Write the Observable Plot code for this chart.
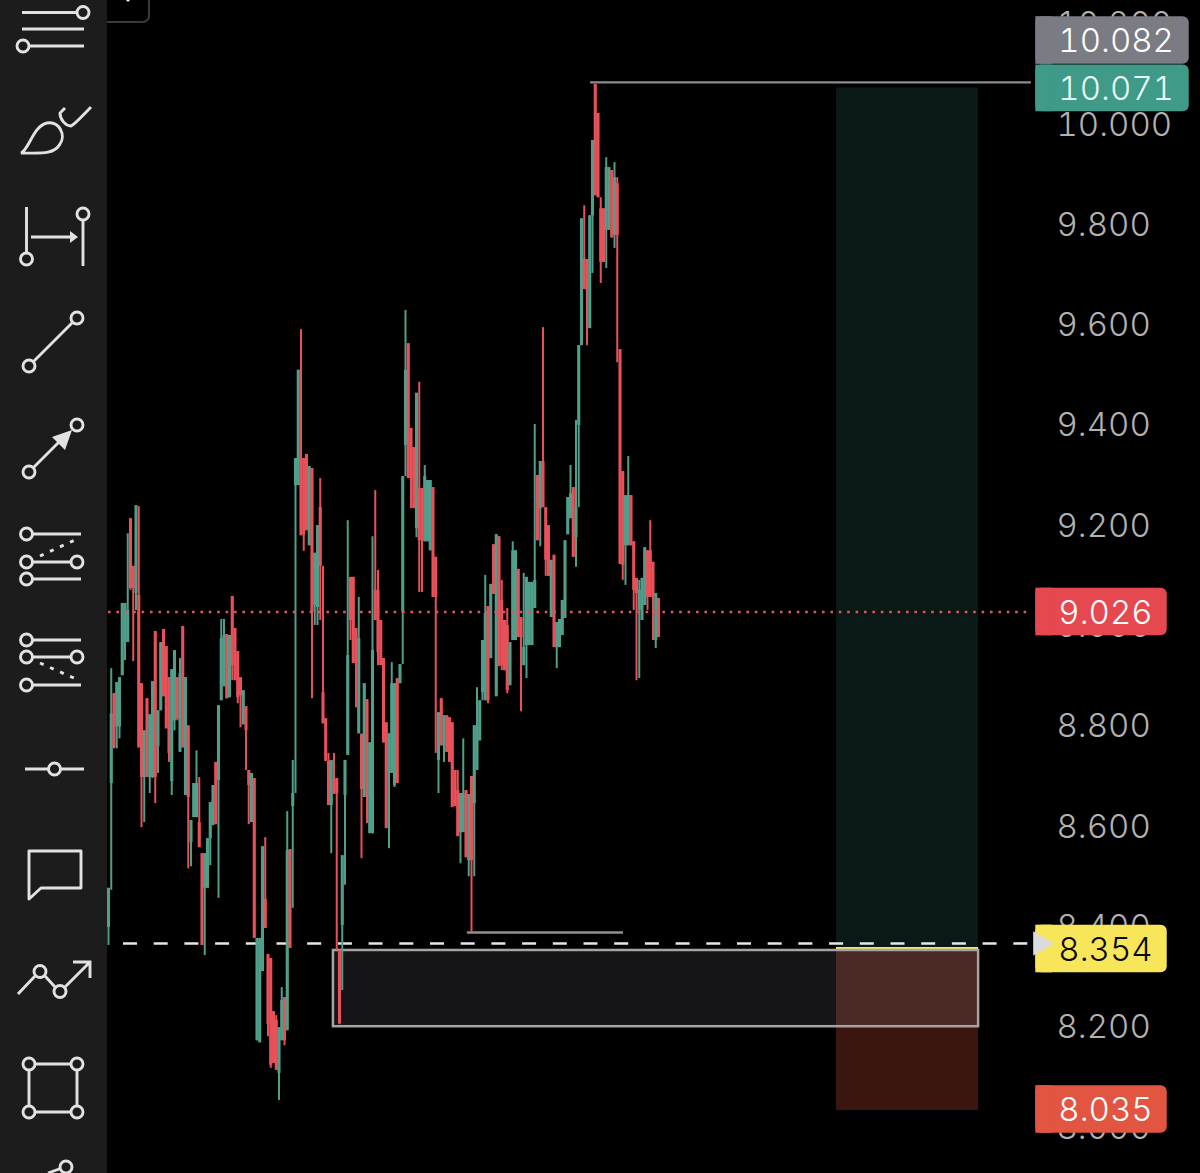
<!DOCTYPE html>
<html>
<head>
<meta charset="utf-8">
<script src="https://cdn.jsdelivr.net/npm/d3@7"></script>
<script src="https://cdn.jsdelivr.net/npm/@observablehq/plot@0.6"></script>
<style>
html,body{margin:0;padding:0;background:#000;width:1200px;height:1173px;overflow:hidden}
#wrap{position:relative;width:1200px;height:1173px}
#wrap>svg{display:block;position:absolute;left:0;top:0}
#tools{pointer-events:none}
</style>
</head>
<body>
<div id="wrap"></div>
<script>
const high=[8.475,8.913,8.863,8.885,8.895,9.043,9.043,9.182,9.212,9.117,
9.238,9.236,8.883,8.789,8.853,8.821,8.887,8.987,8.829,8.965,
8.991,8.957,8.895,8.911,8.949,8.895,8.933,8.997,8.895,8.799,
8.610,8.684,8.749,8.696,8.544,8.544,8.574,8.646,8.680,8.726,
8.839,9.011,9.011,8.981,8.979,9.057,8.993,8.947,8.895,8.869,
8.837,8.710,8.704,8.694,8.375,8.375,8.558,8.576,8.343,8.335,
8.229,8.221,8.197,8.277,8.257,8.628,8.552,8.730,9.332,9.508,
9.589,9.332,9.340,9.316,9.312,9.143,9.198,9.292,9.117,8.813,
8.744,8.730,8.744,8.694,8.351,8.540,8.730,9.208,9.095,9.095,
8.993,9.055,8.783,8.883,8.851,8.765,9.176,9.268,9.109,9.009,
8.933,8.805,8.783,8.925,8.883,8.893,8.921,9.296,9.627,9.561,
9.392,9.354,9.462,9.484,9.272,9.318,9.288,9.288,9.274,9.135,
8.825,8.853,8.819,8.819,8.815,8.805,8.710,8.710,8.664,8.773,
8.670,8.662,8.698,8.799,8.875,8.849,8.969,9.099,9.037,9.081,
9.160,9.180,9.176,9.089,9.009,9.033,8.965,9.166,9.148,9.111,
9.015,9.103,9.095,9.085,9.085,9.400,9.298,9.326,9.593,9.234,
9.198,9.129,9.139,9.005,9.011,9.049,9.168,9.254,9.318,9.274,
9.408,9.557,9.810,9.836,9.729,9.816,9.966,10.078,10.020,9.852,
9.830,9.932,9.912,9.906,9.922,9.892,9.549,9.306,9.258,9.336,
9.258,9.166,9.093,9.089,9.093,9.154,9.148,9.208,9.125,9.063,9.053];
const low=[8.361,8.471,8.753,8.753,8.773,8.899,8.929,8.965,9.069,8.927,
9.029,8.755,8.596,8.606,8.696,8.664,8.694,8.644,8.704,8.829,
8.857,8.793,8.726,8.660,8.789,8.809,8.746,8.755,8.660,8.514,
8.518,8.616,8.616,8.556,8.361,8.341,8.475,8.520,8.600,8.602,
8.455,8.849,8.877,8.853,8.855,8.889,8.889,8.843,8.795,8.801,
8.710,8.602,8.606,8.375,8.171,8.167,8.309,8.395,8.179,8.116,
8.126,8.112,8.052,8.171,8.161,8.191,8.355,8.435,8.664,9.278,
9.178,9.147,9.188,9.158,8.853,8.999,8.999,9.009,8.803,8.728,
8.640,8.544,8.662,8.351,8.203,8.271,8.481,8.740,8.969,8.923,
8.835,8.783,8.534,8.656,8.604,8.584,8.584,9.009,8.919,8.919,
8.765,8.594,8.554,8.704,8.676,8.684,8.883,8.921,9.296,9.292,
9.232,9.232,9.174,9.065,9.065,9.166,9.166,9.148,9.055,8.744,
8.664,8.759,8.726,8.746,8.726,8.636,8.638,8.578,8.524,8.586,
8.536,8.498,8.387,8.498,8.710,8.769,8.849,8.849,8.843,8.933,
9.061,8.857,8.917,8.909,8.909,8.863,8.879,8.969,8.969,8.975,
8.827,8.919,8.893,8.959,8.959,9.033,9.168,9.156,9.234,9.097,
9.097,9.015,8.955,8.913,8.955,8.979,9.013,9.180,9.212,9.135,
9.115,9.234,9.557,9.669,9.557,9.591,9.701,9.856,9.852,9.681,
9.723,9.711,9.787,9.771,9.751,9.523,9.121,9.089,9.079,9.158,
9.158,9.029,8.889,8.893,9.009,9.039,9.029,9.055,8.969,8.953,8.975];
const open=[8.397,8.684,8.863,8.797,8.797,8.899,8.965,8.965,9.212,9.117,
9.063,9.059,8.883,8.696,8.853,8.696,8.696,8.987,8.757,8.829,
8.991,8.957,8.895,8.688,8.809,8.895,8.746,8.997,8.660,8.799,
8.566,8.616,8.616,8.606,8.544,8.475,8.475,8.574,8.600,8.726,
8.690,8.849,8.877,8.981,8.855,9.057,8.993,8.947,8.895,8.801,
8.837,8.710,8.606,8.694,8.171,8.167,8.309,8.453,8.343,8.335,
8.229,8.211,8.106,8.171,8.257,8.191,8.552,8.638,9.278,9.278,
9.332,9.332,9.340,9.158,9.312,9.039,9.035,9.234,8.865,8.813,
8.728,8.640,8.690,8.694,8.351,8.401,8.660,8.740,9.095,9.095,
8.993,8.783,8.781,8.656,8.851,8.584,8.584,9.069,9.069,9.009,
8.933,8.805,8.704,8.704,8.680,8.893,8.883,9.025,9.358,9.561,
9.392,9.354,9.192,9.272,9.272,9.166,9.166,9.148,9.274,9.135,
8.730,8.853,8.759,8.819,8.815,8.805,8.710,8.670,8.586,8.586,
8.670,8.530,8.698,8.644,8.710,8.769,8.865,8.849,9.037,8.933,
9.160,8.857,9.176,9.049,9.009,8.999,8.879,8.969,8.969,9.111,
9.015,8.919,8.959,8.959,8.959,9.033,9.298,9.232,9.326,9.234,
9.198,9.015,9.139,8.955,8.955,8.979,9.013,9.180,9.212,9.274,
9.174,9.398,9.557,9.729,9.729,9.591,9.816,10.078,10.020,9.830,
9.830,9.787,9.787,9.906,9.777,9.880,9.549,9.306,9.158,9.158,
9.258,9.166,9.093,9.029,9.009,9.039,9.148,9.148,9.125,8.969,9.053];
const close=[8.475,8.823,8.755,8.885,8.895,9.043,9.043,9.029,9.073,9.073,
9.238,8.755,8.696,8.789,8.696,8.821,8.887,8.696,8.829,8.965,
8.857,8.793,8.744,8.911,8.949,8.813,8.903,8.755,8.895,8.656,
8.610,8.684,8.684,8.556,8.361,8.544,8.574,8.646,8.680,8.602,
8.839,8.973,8.979,8.853,8.979,8.919,8.889,8.855,8.859,8.869,
8.789,8.680,8.704,8.375,8.375,8.375,8.558,8.395,8.203,8.122,
8.126,8.112,8.197,8.251,8.171,8.550,8.355,8.664,9.332,9.508,
9.178,9.180,9.188,9.316,9.025,9.143,9.198,9.117,8.803,8.728,
8.640,8.730,8.662,8.664,8.205,8.540,8.730,8.939,9.009,8.923,
8.923,8.973,8.672,8.883,8.656,8.765,8.949,9.009,8.945,8.919,
8.765,8.594,8.783,8.883,8.883,8.684,8.921,9.296,9.508,9.292,
9.292,9.232,9.462,9.168,9.168,9.296,9.288,9.288,9.055,9.055,
8.825,8.759,8.819,8.746,8.726,8.636,8.638,8.578,8.664,8.664,
8.536,8.662,8.530,8.799,8.799,8.849,8.969,9.023,8.849,9.081,
9.061,9.180,8.917,8.919,8.909,8.869,8.965,9.148,9.148,8.975,
8.975,8.955,9.095,9.085,9.085,9.089,9.168,9.326,9.234,9.129,
9.097,9.129,8.955,9.005,9.011,9.049,9.168,9.254,9.262,9.135,
9.234,9.557,9.810,9.669,9.667,9.816,9.966,9.856,9.852,9.723,
9.723,9.912,9.912,9.773,9.892,9.777,9.121,9.119,9.258,9.258,
9.158,9.069,9.063,9.069,9.093,9.154,9.055,9.055,9.055,9.063,8.975];

const priceTicks=[10.2,10,9.8,9.6,9.4,9.2,9,8.8,8.6,8.4,8.2,8];
const targetPrice=10.071, entryPrice=8.354, stopPrice=8.035, lastPrice=9.026, swingHigh=10.082, swingLow=8.387, cursorPrice=8.365;
const boxTop=8.351, boxBottom=8.199, zoneFloor=8.032;

const GREEN="#4f9f8b", RED="#e8505a";
const candles=high.map((h,i)=>({i,high:h,low:low[i],open:open[i],close:close[i]}));
const dirColor=d=>d.close>=d.open?GREEN:RED;

const zoneBars=[264.7,316.4], boxBars=[81.8,316.4], highBars=[175.3,335.6], lowBars=[130.5,187.3], lineBars=[0,335.6];
const tagLeft=337.2, tagText=345.4;
const tags=[
 {price:swingHigh,label:"10.082",fill:"#7b7b83",text:"#ffffff",x2:393,half:.0475,offset:.0835},
 {price:targetPrice,label:"10.071",fill:"#3f9a87",text:"#e9fbf6",x2:393,half:.0465,offset:-.001},
 {price:lastPrice,label:"9.026",fill:"#e5484f",text:"#ffffff",x2:385,half:.0475,offset:0},
 {price:entryPrice,label:"8.354",fill:"#f7e65a",text:"#0a0a0a",x2:385,half:.0475,offset:0},
 {price:stopPrice,label:"8.035",fill:"#e25541",text:"#ffffff",x2:385,half:.0475,offset:-.001}
];

const fontFamily="Inter, 'Noto Sans', sans-serif";
const chart=Plot.plot({
 width:1200,height:1173,margin:0,
 style:{background:"#000",fontFamily,fontVariantNumeric:"tabular-nums"},
 x:{domain:[-39.27,397.09],axis:null},
 y:{domain:[7.9063,10.2453],axis:null},
 marks:[
  Plot.axisY({anchor:"right",ticks:priceTicks,tickSize:0,tickPadding:-144,dy:1.5,
    tickFormat:d3.format(".3f"),fontSize:33,fontWeight:300,fill:"#b2b2b2",stroke:"none",label:null}),
  Plot.rect([0],{x1:zoneBars[0],x2:zoneBars[1],y1:entryPrice,y2:targetPrice,fill:"#0a1816"}),
  Plot.rect([0],{x1:zoneBars[0],x2:zoneBars[1],y1:zoneFloor,y2:entryPrice,fill:"#3b1610"}),
  Plot.ruleY([entryPrice+.001],{x1:zoneBars[0],x2:zoneBars[1],stroke:"#f3e36a",strokeWidth:3}),
  Plot.rect([0],{x1:boxBars[0],x2:boxBars[1],y1:boxBottom,y2:boxTop,fill:"#e4eeff",fillOpacity:.09,stroke:"#a4a4a4",strokeWidth:2.5}),
  Plot.ruleY([swingHigh],{x1:highBars[0],x2:highBars[1],stroke:"#8c8c92",strokeWidth:2.4}),
  Plot.ruleY([swingLow],{x1:lowBars[0],x2:lowBars[1],stroke:"#8f8f8f",strokeWidth:2.4}),
  Plot.ruleY([cursorPrice],{x1:lineBars[0],x2:lineBars[1],stroke:"#e6e6e6",strokeWidth:2.6,strokeDasharray:"14 16.7",strokeDashoffset:-15}),
  Plot.ruleX(candles,{x:"i",y1:"low",y2:"high",stroke:dirColor,strokeWidth:2}),
  Plot.ruleX(candles,{x:"i",y1:"open",y2:"close",stroke:dirColor,strokeWidth:3.1}),
  Plot.ruleY([lastPrice],{x1:lineBars[0],x2:lineBars[1],stroke:"#df565f",strokeWidth:2.6,strokeDasharray:"2.6 5.8"}),
  Plot.rect(tags,{x1:tagLeft,x2:"x2",y1:d=>d.price+d.offset-d.half,y2:d=>d.price+d.offset+d.half,fill:"fill",rx:6}),
  Plot.rect(tags,{x1:tagLeft,x2:tagLeft+6,y1:d=>d.price+d.offset-d.half,y2:d=>d.price+d.offset+d.half,fill:"fill"}),
  Plot.dot([cursorPrice],{x:tagLeft+1.6,y:d=>d,r:9,symbol:"triangle",rotate:90,fill:"#dcdcdc",stroke:"none"}),
  Plot.text(tags,{x:tagText,y:d=>d.price+d.offset,text:"label",fill:"text",textAnchor:"start",fontSize:33,fontWeight:300,dy:1})
 ]
});
const wrap=document.getElementById("wrap");
wrap.appendChild(chart);

const C="#e2e2e2";
const circle=(x,y)=>`<circle cx="${x}" cy="${y}" r="6" fill="#1c1c1c"/>`;
const tools=`<svg id="tools" xmlns="http://www.w3.org/2000/svg" width="1200" height="1173" viewBox="0 0 1200 1173" fill="none" stroke="${C}" stroke-width="2.9">
<rect x="0" y="0" width="107" height="1173" fill="#1c1c1c" stroke="none"/>
<rect x="90" y="-20" width="59" height="42" rx="6" fill="#000" stroke="#3a3a3a" stroke-width="2"/>
<circle cx="128" cy="0" r="1.6" fill="#fff" stroke="none"/>
<rect x="0" y="0" width="107" height="24" fill="#1c1c1c" stroke="none"/>
<path d="M22 12.5H77M22 29H84M29 46H84"/>${circle(83,12.5)}${circle(23,46)}
<path d="M21 153C29 150 33 126 47 123C60 121 66 136 60 144C54 155 40 153 21 153Z"/>
<path d="M65 108L60 113C60 120 66 126 71 126C75 124 85 113 91 107"/>
<path d="M26.5 207V253M83 221V266M31 237H72"/><path d="M70 231L78 237L70 243Z" fill="${C}" stroke="none"/>${circle(26.5,259)}${circle(83,214)}
<path d="M33 362L73 322"/>${circle(77,318)}${circle(29,366)}
<path d="M33 468L60 441"/><path d="M52 437L65 450L72 430Z" fill="${C}" stroke="none"/>${circle(77,425)}${circle(29,472)}
<path d="M33 534H81M33 562H71M33 579H81"/><path d="M40 556L75 540" stroke-dasharray="4 7"/>${circle(26.5,534)}${circle(26.5,562)}${circle(77,562)}${circle(26.5,579)}
<path d="M33 640H81M33 657H71M33 685H81"/><path d="M40 663L76 679" stroke-dasharray="4 7"/>${circle(26.5,640)}${circle(26.5,657)}${circle(77,657)}${circle(26.5,685)}
<path d="M25 769H84"/>${circle(54.5,769)}
<path d="M29 851H81V888H41L29 899Z" stroke-linejoin="round"/>
<path d="M18 994L36 975M45 976L55 987M65 987L90 962M73 962H90V978"/>${circle(40,971.5)}${circle(60,991.5)}
<path d="M29 1064H77V1112H29Z"/>${circle(29,1064)}${circle(77,1064)}${circle(29,1112)}${circle(77,1112)}
<path d="M48 1173L62 1168"/>${circle(66,1167)}
</svg>`;
wrap.insertAdjacentHTML("beforeend",tools);
</script>
</body>
</html>
